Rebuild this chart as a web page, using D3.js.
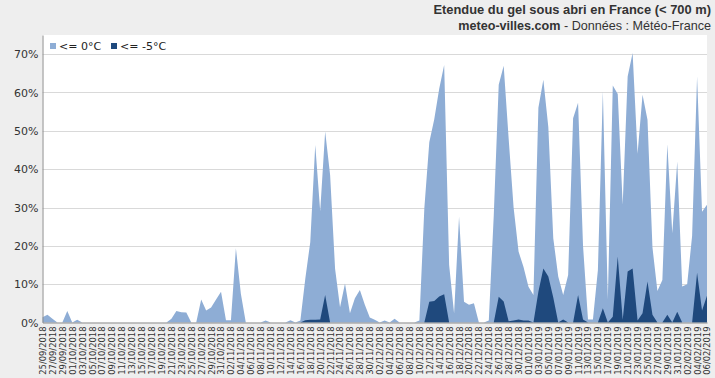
<!DOCTYPE html>
<html>
<head>
<meta charset="utf-8">
<script src="https://cdnjs.cloudflare.com/ajax/libs/d3/7.8.5/d3.min.js"></script>
<style>
  html, body { margin: 0; padding: 0; background: #eeeeee; }
  svg { display: block; }
</style>
</head>
<body>
<div id="chart"></div>
<script>
// Daily values, 25/09/2018 -> 06/02/2019 (share of stations, %)
const startDay = "2018-09-25";
const endDay = "2019-02-06";

const frost0 = [
  1.4, 2.0, 1.0, 0, 0, 3.0, 0, 0.7, 0, 0,
  0, 0, 0, 0, 0, 0, 0, 0, 0, 0,
  0, 0, 0, 0, 0, 0, 1.0, 3.0, 2.7, 2.6,
  0, 0, 6.0, 3.1, 3.9, 6.0, 8.0, 0.6, 0.6, 19.4,
  7.5, 0, 0, 0, 0, 0.5, 0, 0, 0, 0,
  0.6, 0, 0.5, 11.5, 21.0, 46.3, 29.0, 49.8, 38.5, 14.0,
  4.0, 10.2, 2.4, 6.3, 8.5, 4.6, 1.3, 0.7, 0, 0.5,
  0, 1.0, 0, 0, 0, 0, 0.5, 29.8, 47.0, 53.0,
  61.0, 67.2, 15.0, 2.4, 27.6, 5.4, 4.6, 5.0, 0, 0,
  0.5, 28.0, 62.0, 67.0, 48.0, 30.0, 18.5, 14.5, 9.3, 7.2,
  56.0, 63.3, 51.0, 22.0, 12.0, 7.2, 12.4, 53.3, 57.3, 20.0,
  0.8, 0.8, 13.7, 60.3, 6.0, 61.8, 59.6, 30.7, 64.2, 70.3,
  44.0, 59.4, 52.9, 19.6, 8.2, 11.1, 46.5, 23.3, 42.0, 9.4,
  10.0, 22.6, 64.2, 28.9, 30.7
];

const frost5 = [
  0, 0, 0, 0, 0, 0, 0, 0, 0, 0,
  0, 0, 0, 0, 0, 0, 0, 0, 0, 0,
  0, 0, 0, 0, 0, 0, 0, 0, 0, 0,
  0, 0, 0, 0, 0, 0, 0, 0, 0, 0,
  0, 0, 0, 0, 0, 0, 0, 0, 0, 0,
  0, 0, 0, 0.6, 0.7, 0.7, 0.8, 7.2, 0, 0,
  0, 0, 0, 0, 0, 0, 0, 0, 0, 0,
  0, 0, 0, 0, 0, 0, 0, 0, 5.4, 5.6,
  6.8, 7.4, 0, 0, 0, 0, 0, 0, 0, 0,
  0, 0, 6.7, 5.5, 0.3, 0.5, 0.8, 0.5, 0.5, 0,
  8.0, 14.1, 12.0, 6.5, 0, 0.8, 0, 0, 7.2, 0.8,
  0, 0, 0, 3.7, 0, 1.5, 17.2, 0.7, 13.3, 14.1,
  0.5, 2.4, 10.7, 2.0, 0, 0, 2.0, 0, 2.8, 0,
  0, 0, 13.0, 3.1, 7.0
];

const yTicks = [0, 10, 20, 30, 40, 50, 60, 70];
const seriesNames = ["<= 0°C", "<= -5°C"];
const seriesColors = ["#8eadd5", "#1f497d"];

function renderFrostChart() {
  const width = 715;
  const height = 378;
  const margin = { top: 35, right: 8, bottom: 55.5, left: 42.5 };

  const days = d3.utcDay.range(new Date(startDay), d3.utcDay.offset(new Date(endDay), 1));
  const rows = days.map((d, i) => ({ date: d, v0: frost0[i], v5: frost5[i] }));

  const svg = d3.select('#chart')
    .append('svg')
    .attr('width', width)
    .attr('height', height);

  const x = d3.scaleUtc()
    .domain([days[0], days[days.length - 1]])
    .range([margin.left, width - margin.right]);

  const y = d3.scaleLinear()
    .domain([0, 75])
    .range([height - margin.bottom, margin.top]);

  // plot background
  svg.append("rect")
    .attr("x", margin.left)
    .attr("y", margin.top)
    .attr("width", width - margin.right - margin.left)
    .attr("height", height - margin.bottom - margin.top)
    .attr("fill", "#fff");

  // Gridlines
  svg.append("g")
    .selectAll("line")
    .data(yTicks.slice(1))
    .join("line")
    .attr("x1", margin.left)
    .attr("x2", width - margin.right)
    .attr("y1", d => Math.round(y(d)) + 0.5)
    .attr("y2", d => Math.round(y(d)) + 0.5)
    .attr("stroke", "#d9d9d9")
    .attr("stroke-width", 1);

  // Areas (not stacked: -5 is a subset of 0)
  const area0 = d3.area()
    .x(d => x(d.date))
    .y0(y(0))
    .y1(d => y(d.v0));
  const area5 = d3.area()
    .x(d => x(d.date))
    .y0(y(0))
    .y1(d => y(d.v5));

  svg.append("path")
    .datum(rows)
    .attr("fill", seriesColors[0])
    .attr("d", area0);

  svg.append("path")
    .datum(rows)
    .attr("fill", seriesColors[1])
    .attr("d", area5);

  // Axes
  const yAxis = svg.append("g")
    .attr("transform", `translate(${margin.left},0)`)
    .call(d3.axisLeft(y).tickValues(yTicks).tickSize(0).tickPadding(4).tickFormat(d => d + "%"));
  yAxis.select(".domain").attr("stroke", "#8c8c8c");
  yAxis.selectAll("text")
    .attr("font-family", "DejaVu Sans, Verdana, sans-serif")
    .attr("font-size", "11px")
    .attr("fill", "#333");

  const tickDays = days.filter((d, i) => i % 2 === 0);
  const xAxis = svg.append("g")
    .attr("transform", `translate(0,${height - margin.bottom})`)
    .call(d3.axisBottom(x).tickValues(tickDays).tickSize(0).tickFormat(d3.utcFormat("%d/%m/%Y")));
  xAxis.select(".domain").attr("stroke", "#8c8c8c");
  xAxis.selectAll("text")
    .attr("font-family", "DejaVu Sans, Verdana, sans-serif")
    .attr("font-size", "8.4px")
    .attr("fill", "#333")
    .attr("text-anchor", "end")
    .attr("transform", "rotate(-90)")
    .attr("x", -4)
    .attr("y", 0)
    .attr("dy", "0.35em");

  // Legend
  const legend = svg.append("g").attr("font-family", "DejaVu Sans, Verdana, sans-serif").attr("font-size", "11px");
  const legendX = [50, 111];
  seriesNames.forEach((name, i) => {
    legend.append("rect")
      .attr("x", legendX[i])
      .attr("y", 43)
      .attr("width", 6)
      .attr("height", 6)
      .attr("fill", seriesColors[i]);
    legend.append("text")
      .attr("x", legendX[i] + 9)
      .attr("y", 50)
      .attr("fill", "#222")
      .text(name);
  });

  // Titles
  svg.append("text")
    .attr("x", 711)
    .attr("y", 14)
    .attr("text-anchor", "end")
    .attr("font-family", "Liberation Sans, Arial, sans-serif")
    .attr("font-weight", "bold")
    .attr("font-size", "12.9px")
    .attr("fill", "#333")
    .text("Etendue du gel sous abri en France (< 700 m)");

  const sub = svg.append("text")
    .attr("x", 711)
    .attr("y", 30)
    .attr("text-anchor", "end")
    .attr("font-family", "Liberation Sans, Arial, sans-serif")
    .attr("font-size", "12.6px")
    .attr("fill", "#333");
  sub.append("tspan").attr("font-weight", "bold").text("meteo-villes.com");
  sub.append("tspan").text(" - Données : Météo-France");
}

renderFrostChart();
</script>
</body>
</html>
